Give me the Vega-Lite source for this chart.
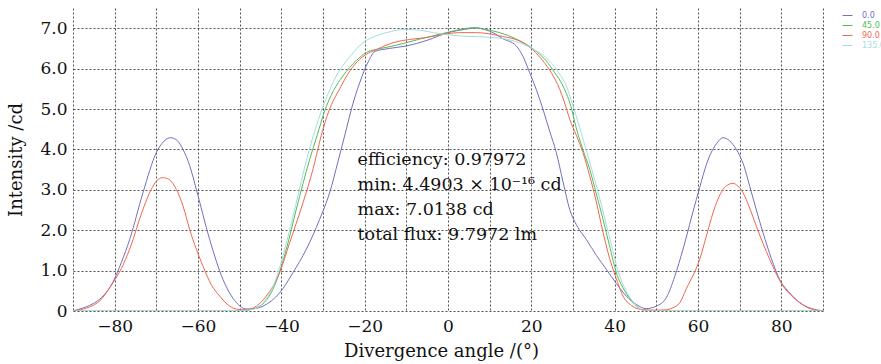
{
  "$schema": "https://vega.github.io/schema/vega-lite/v6.json",
  "width": 750,
  "height": 303,
  "autosize": {"type": "none"},
  "padding": {"left": 73, "top": 8, "right": 58, "bottom": 53},
  "background": "white",
  "config": {"view": {"stroke": null}, "font": "DejaVu Serif"},
  "datasets": {
    "curves": [
      {"s":"0.0","a":-90,"v":0},{"s":"0.0","a":-89,"v":0.03},{"s":"0.0","a":-86,"v":0.14},{"s":"0.0","a":-83.6,"v":0.29},{"s":"0.0","a":-80.4,"v":0.72},{"s":"0.0","a":-78.4,"v":1.2},{"s":"0.0","a":-76.4,"v":1.77},{"s":"0.0","a":-73.2,"v":2.93},{"s":"0.0","a":-70,"v":3.92},{"s":"0.0","a":-68.2,"v":4.2},{"s":"0.0","a":-66.6,"v":4.29},{"s":"0.0","a":-65,"v":4.22},{"s":"0.0","a":-63.6,"v":4.0},{"s":"0.0","a":-62,"v":3.6},{"s":"0.0","a":-60.4,"v":3.01},{"s":"0.0","a":-57.2,"v":1.77},{"s":"0.0","a":-54,"v":0.78},{"s":"0.0","a":-50.8,"v":0.21},{"s":"0.0","a":-48.4,"v":0.05},{"s":"0.0","a":-46.5,"v":0.06},{"s":"0.0","a":-44.4,"v":0.12},{"s":"0.0","a":-42.4,"v":0.25},{"s":"0.0","a":-40.4,"v":0.45},{"s":"0.0","a":-37.2,"v":0.95},{"s":"0.0","a":-34,"v":1.53},{"s":"0.0","a":-30.8,"v":2.27},{"s":"0.0","a":-28.4,"v":2.93},{"s":"0.0","a":-26.4,"v":3.7},{"s":"0.0","a":-24.4,"v":4.5},{"s":"0.0","a":-23.2,"v":4.99},{"s":"0.0","a":-21.2,"v":5.65},{"s":"0.0","a":-19,"v":6.2},{"s":"0.0","a":-17.6,"v":6.42},{"s":"0.0","a":-14,"v":6.5},{"s":"0.0","a":-10,"v":6.56},{"s":"0.0","a":-5,"v":6.7},{"s":"0.0","a":0,"v":6.89},{"s":"0.0","a":4,"v":6.97},{"s":"0.0","a":6.8,"v":7.01},{"s":"0.0","a":9,"v":6.96},{"s":"0.0","a":10.8,"v":6.89},{"s":"0.0","a":13,"v":6.75},{"s":"0.0","a":16.4,"v":6.56},{"s":"0.0","a":18,"v":6.3},{"s":"0.0","a":19.6,"v":5.9},{"s":"0.0","a":21.3,"v":5.45},{"s":"0.0","a":22.8,"v":4.99},{"s":"0.0","a":24.4,"v":4.45},{"s":"0.0","a":26,"v":3.92},{"s":"0.0","a":27.6,"v":3.2},{"s":"0.0","a":29.2,"v":2.52},{"s":"0.0","a":31,"v":2.1},{"s":"0.0","a":33.2,"v":1.77},{"s":"0.0","a":35.6,"v":1.38},{"s":"0.0","a":38,"v":1.03},{"s":"0.0","a":40.4,"v":0.68},{"s":"0.0","a":42.8,"v":0.37},{"s":"0.0","a":45.2,"v":0.16},{"s":"0.0","a":47.6,"v":0.06},{"s":"0.0","a":50,"v":0.12},{"s":"0.0","a":52.4,"v":0.33},{"s":"0.0","a":54.4,"v":0.85},{"s":"0.0","a":56.4,"v":1.53},{"s":"0.0","a":59.6,"v":2.76},{"s":"0.0","a":62.8,"v":3.84},{"s":"0.0","a":64.5,"v":4.15},{"s":"0.0","a":66,"v":4.29},{"s":"0.0","a":67.5,"v":4.22},{"s":"0.0","a":69.2,"v":4.0},{"s":"0.0","a":71,"v":3.6},{"s":"0.0","a":72.4,"v":3.09},{"s":"0.0","a":75.6,"v":1.94},{"s":"0.0","a":77.6,"v":1.3},{"s":"0.0","a":79.6,"v":0.78},{"s":"0.0","a":82,"v":0.45},{"s":"0.0","a":84.4,"v":0.21},{"s":"0.0","a":86.4,"v":0.09},{"s":"0.0","a":88.4,"v":0.03},{"s":"0.0","a":90,"v":0},

      {"s":"45.0","a":-90,"v":0},{"s":"45.0","a":-50,"v":0},{"s":"45.0","a":-48,"v":0.02},{"s":"45.0","a":-46,"v":0.08},{"s":"45.0","a":-44,"v":0.22},{"s":"45.0","a":-42,"v":0.54},{"s":"45.0","a":-38.8,"v":1.53},{"s":"45.0","a":-36.4,"v":2.52},{"s":"45.0","a":-33.2,"v":3.75},{"s":"45.0","a":-31.4,"v":4.35},{"s":"45.0","a":-29.6,"v":4.95},{"s":"45.0","a":-27.5,"v":5.45},{"s":"45.0","a":-25.2,"v":5.82},{"s":"45.0","a":-22,"v":6.2},{"s":"45.0","a":-19.6,"v":6.4},{"s":"45.0","a":-16,"v":6.5},{"s":"45.0","a":-13.2,"v":6.56},{"s":"45.0","a":-6.8,"v":6.73},{"s":"45.0","a":-0.4,"v":6.89},{"s":"45.0","a":3,"v":6.97},{"s":"45.0","a":6,"v":7.01},{"s":"45.0","a":9,"v":6.97},{"s":"45.0","a":12.4,"v":6.89},{"s":"45.0","a":16,"v":6.75},{"s":"45.0","a":18.8,"v":6.6},{"s":"45.0","a":21.5,"v":6.4},{"s":"45.0","a":23.6,"v":6.19},{"s":"45.0","a":25.6,"v":5.9},{"s":"45.0","a":27.6,"v":5.57},{"s":"45.0","a":29.8,"v":4.95},{"s":"45.0","a":30.6,"v":4.6},{"s":"45.0","a":32.2,"v":4.05},{"s":"45.0","a":34,"v":3.51},{"s":"45.0","a":35.6,"v":2.9},{"s":"45.0","a":37.2,"v":2.27},{"s":"45.0","a":38.8,"v":1.6},{"s":"45.0","a":40.4,"v":0.95},{"s":"45.0","a":42.4,"v":0.5},{"s":"45.0","a":44.4,"v":0.21},{"s":"45.0","a":46,"v":0.06},{"s":"45.0","a":47.6,"v":0},{"s":"45.0","a":90,"v":0},

      {"s":"90.0","a":-90,"v":0},{"s":"90.0","a":-89,"v":0.02},{"s":"90.0","a":-86,"v":0.1},{"s":"90.0","a":-83.6,"v":0.25},{"s":"90.0","a":-80.4,"v":0.7},{"s":"90.0","a":-78.4,"v":1.05},{"s":"90.0","a":-76.4,"v":1.53},{"s":"90.0","a":-73.2,"v":2.52},{"s":"90.0","a":-70.8,"v":3.09},{"s":"90.0","a":-69.5,"v":3.26},{"s":"90.0","a":-68.4,"v":3.3},{"s":"90.0","a":-67,"v":3.26},{"s":"90.0","a":-65.2,"v":3.01},{"s":"90.0","a":-63.6,"v":2.6},{"s":"90.0","a":-62,"v":2.02},{"s":"90.0","a":-58.8,"v":1.11},{"s":"90.0","a":-56.8,"v":0.65},{"s":"90.0","a":-54.8,"v":0.37},{"s":"90.0","a":-52.4,"v":0.12},{"s":"90.0","a":-50.4,"v":0.04},{"s":"90.0","a":-48.4,"v":0.03},{"s":"90.0","a":-46,"v":0.12},{"s":"90.0","a":-43.6,"v":0.37},{"s":"90.0","a":-40.4,"v":0.95},{"s":"90.0","a":-38,"v":1.69},{"s":"90.0","a":-34.8,"v":2.68},{"s":"90.0","a":-32.4,"v":3.51},{"s":"90.0","a":-30.4,"v":4.35},{"s":"90.0","a":-28.6,"v":4.95},{"s":"90.0","a":-26,"v":5.5},{"s":"90.0","a":-23.5,"v":5.95},{"s":"90.0","a":-21.2,"v":6.23},{"s":"90.0","a":-17,"v":6.48},{"s":"90.0","a":-13.2,"v":6.64},{"s":"90.0","a":-5.2,"v":6.77},{"s":"90.0","a":2.8,"v":6.89},{"s":"90.0","a":6.8,"v":6.89},{"s":"90.0","a":12.4,"v":6.81},{"s":"90.0","a":18,"v":6.64},{"s":"90.0","a":20.5,"v":6.45},{"s":"90.0","a":22.8,"v":6.19},{"s":"90.0","a":24.8,"v":5.9},{"s":"90.0","a":26.8,"v":5.49},{"s":"90.0","a":28,"v":5.15},{"s":"90.0","a":29.2,"v":4.75},{"s":"90.0","a":30.8,"v":4.35},{"s":"90.0","a":32.4,"v":3.92},{"s":"90.0","a":34,"v":3.35},{"s":"90.0","a":35.6,"v":2.7},{"s":"90.0","a":37.2,"v":1.95},{"s":"90.0","a":38.8,"v":1.3},{"s":"90.0","a":40.4,"v":0.8},{"s":"90.0","a":42,"v":0.37},{"s":"90.0","a":44,"v":0.14},{"s":"90.0","a":46.3,"v":0.04},{"s":"90.0","a":50,"v":0.02},{"s":"90.0","a":52.4,"v":0.03},{"s":"90.0","a":54,"v":0.08},{"s":"90.0","a":55.6,"v":0.2},{"s":"90.0","a":57.2,"v":0.55},{"s":"90.0","a":60.4,"v":1.28},{"s":"90.0","a":62,"v":1.85},{"s":"90.0","a":63.6,"v":2.43},{"s":"90.0","a":66,"v":3.01},{"s":"90.0","a":67.5,"v":3.14},{"s":"90.0","a":68.4,"v":3.16},{"s":"90.0","a":69.5,"v":3.1},{"s":"90.0","a":70.8,"v":2.93},{"s":"90.0","a":72.4,"v":2.55},{"s":"90.0","a":74,"v":2.1},{"s":"90.0","a":77.2,"v":1.28},{"s":"90.0","a":80.4,"v":0.62},{"s":"90.0","a":82.4,"v":0.38},{"s":"90.0","a":84.4,"v":0.21},{"s":"90.0","a":86.4,"v":0.08},{"s":"90.0","a":88.4,"v":0.02},{"s":"90.0","a":90,"v":0},

      {"s":"135.0","a":-90,"v":0},{"s":"135.0","a":-49.5,"v":0},{"s":"135.0","a":-48,"v":0.02},{"s":"135.0","a":-46,"v":0.07},{"s":"135.0","a":-44,"v":0.25},{"s":"135.0","a":-42,"v":0.6},{"s":"135.0","a":-39,"v":1.6},{"s":"135.0","a":-36.6,"v":2.6},{"s":"135.0","a":-33.8,"v":3.8},{"s":"135.0","a":-32,"v":4.45},{"s":"135.0","a":-30.2,"v":5.0},{"s":"135.0","a":-26.8,"v":5.82},{"s":"135.0","a":-23.5,"v":6.3},{"s":"135.0","a":-20.4,"v":6.64},{"s":"135.0","a":-17.5,"v":6.8},{"s":"135.0","a":-14.8,"v":6.89},{"s":"135.0","a":-10,"v":6.97},{"s":"135.0","a":-6,"v":6.94},{"s":"135.0","a":-3.6,"v":6.89},{"s":"135.0","a":2.8,"v":6.81},{"s":"135.0","a":10.8,"v":6.77},{"s":"135.0","a":17.2,"v":6.64},{"s":"135.0","a":21,"v":6.45},{"s":"135.0","a":23.6,"v":6.27},{"s":"135.0","a":26.2,"v":5.95},{"s":"135.0","a":28.4,"v":5.57},{"s":"135.0","a":30.4,"v":4.95},{"s":"135.0","a":32,"v":4.4},{"s":"135.0","a":34.5,"v":3.5},{"s":"135.0","a":36,"v":2.95},{"s":"135.0","a":37.6,"v":2.3},{"s":"135.0","a":39.2,"v":1.65},{"s":"135.0","a":40.8,"v":1.0},{"s":"135.0","a":42.7,"v":0.5},{"s":"135.0","a":44.5,"v":0.22},{"s":"135.0","a":46,"v":0.06},{"s":"135.0","a":47.6,"v":0},{"s":"135.0","a":90,"v":0}
    ]
  },
  "layer": [
    {
      "data": {"name": "curves"},
      "mark": {"type": "line", "interpolate": "monotone", "strokeWidth": 1, "clip": true},
      "encoding": {
        "x": {
          "field": "a", "type": "quantitative",
          "scale": {"domain": [-90, 90], "nice": false, "zero": false},
          "title": "Divergence angle /(°)",
          "axis": {
            "values": [-90,-80,-70,-60,-50,-40,-30,-20,-10,0,10,20,30,40,50,60,70,80,90],
            "labelExpr": "datum.value % 20 == 0 ? format(datum.value, 'd') : ''",
            "labelOverlap": false, "labelBound": false, "labelFlush": false,
            "grid": true, "gridDash": [2, 2], "gridColor": "#333", "gridOpacity": 0.85, "gridWidth": 1,
            "ticks": false, "domain": false,
            "labelFont": "DejaVu Serif", "labelFontSize": 17, "labelColor": "#111", "labelPadding": 7,
            "titleFont": "DejaVu Serif", "titleFontSize": 18, "titleFontWeight": "normal", "titleColor": "#111", "titlePadding": 8, "titleX": 368
          }
        },
        "y": {
          "field": "v", "type": "quantitative",
          "scale": {"domain": [0, 7.5], "nice": false},
          "title": "Intensity /cd",
          "axis": {
            "values": [0,0.5,1,1.5,2,2.5,3,3.5,4,4.5,5,5.5,6,6.5,7,7.5],
            "labelExpr": "datum.value % 1 == 0 ? (datum.value == 0 ? '0' : format(datum.value, '.1f')) : ''",
            "labelOverlap": false, "labelBound": false, "labelFlush": false,
            "grid": true, "gridDash": [2, 2], "gridColor": "#333", "gridOpacity": 0.85, "gridWidth": 1,
            "ticks": false, "domain": false,
            "labelFont": "DejaVu Serif", "labelFontSize": 17, "labelColor": "#111", "labelPadding": 6,
            "titleFont": "DejaVu Serif", "titleFontSize": 18, "titleFontWeight": "normal", "titleColor": "#111", "titlePadding": 14
          }
        },
        "color": {
          "field": "s", "type": "nominal",
          "scale": {"domain": ["0.0", "45.0", "90.0", "135.0"], "range": ["#7070c0", "#55bb55", "#f26652", "#a3dde3"]},
          "legend": {
            "title": null, "orient": "none", "legendX": 769, "legendY": 2, "padding": 0,
            "symbolType": "stroke", "symbolSize": 100, "symbolStrokeWidth": 1,
            "labelFont": "DejaVu Sans", "labelFontSize": 8, "labelOffset": 9, "rowPadding": 0,
            "encode": {"labels": {"update": {"fill": {"scale": "color", "field": "value"}}}}
          }
        }
      }
    },
    {
      "data": {"values": [{}]},
      "mark": {
        "type": "text", "align": "left", "baseline": "middle", "font": "DejaVu Serif", "fontSize": 17.5, "lineHeight": 25, "color": "#111",
        "text": ["efficiency: 0.97972", "min: 4.4903 × 10⁻¹⁶ cd", "max: 7.0138 cd", "total flux: 9.7972 lm"]
      },
      "encoding": {
        "x": {"datum": -21.7, "type": "quantitative"},
        "y": {"datum": 3.74, "type": "quantitative"}
      }
    }
  ]
}
